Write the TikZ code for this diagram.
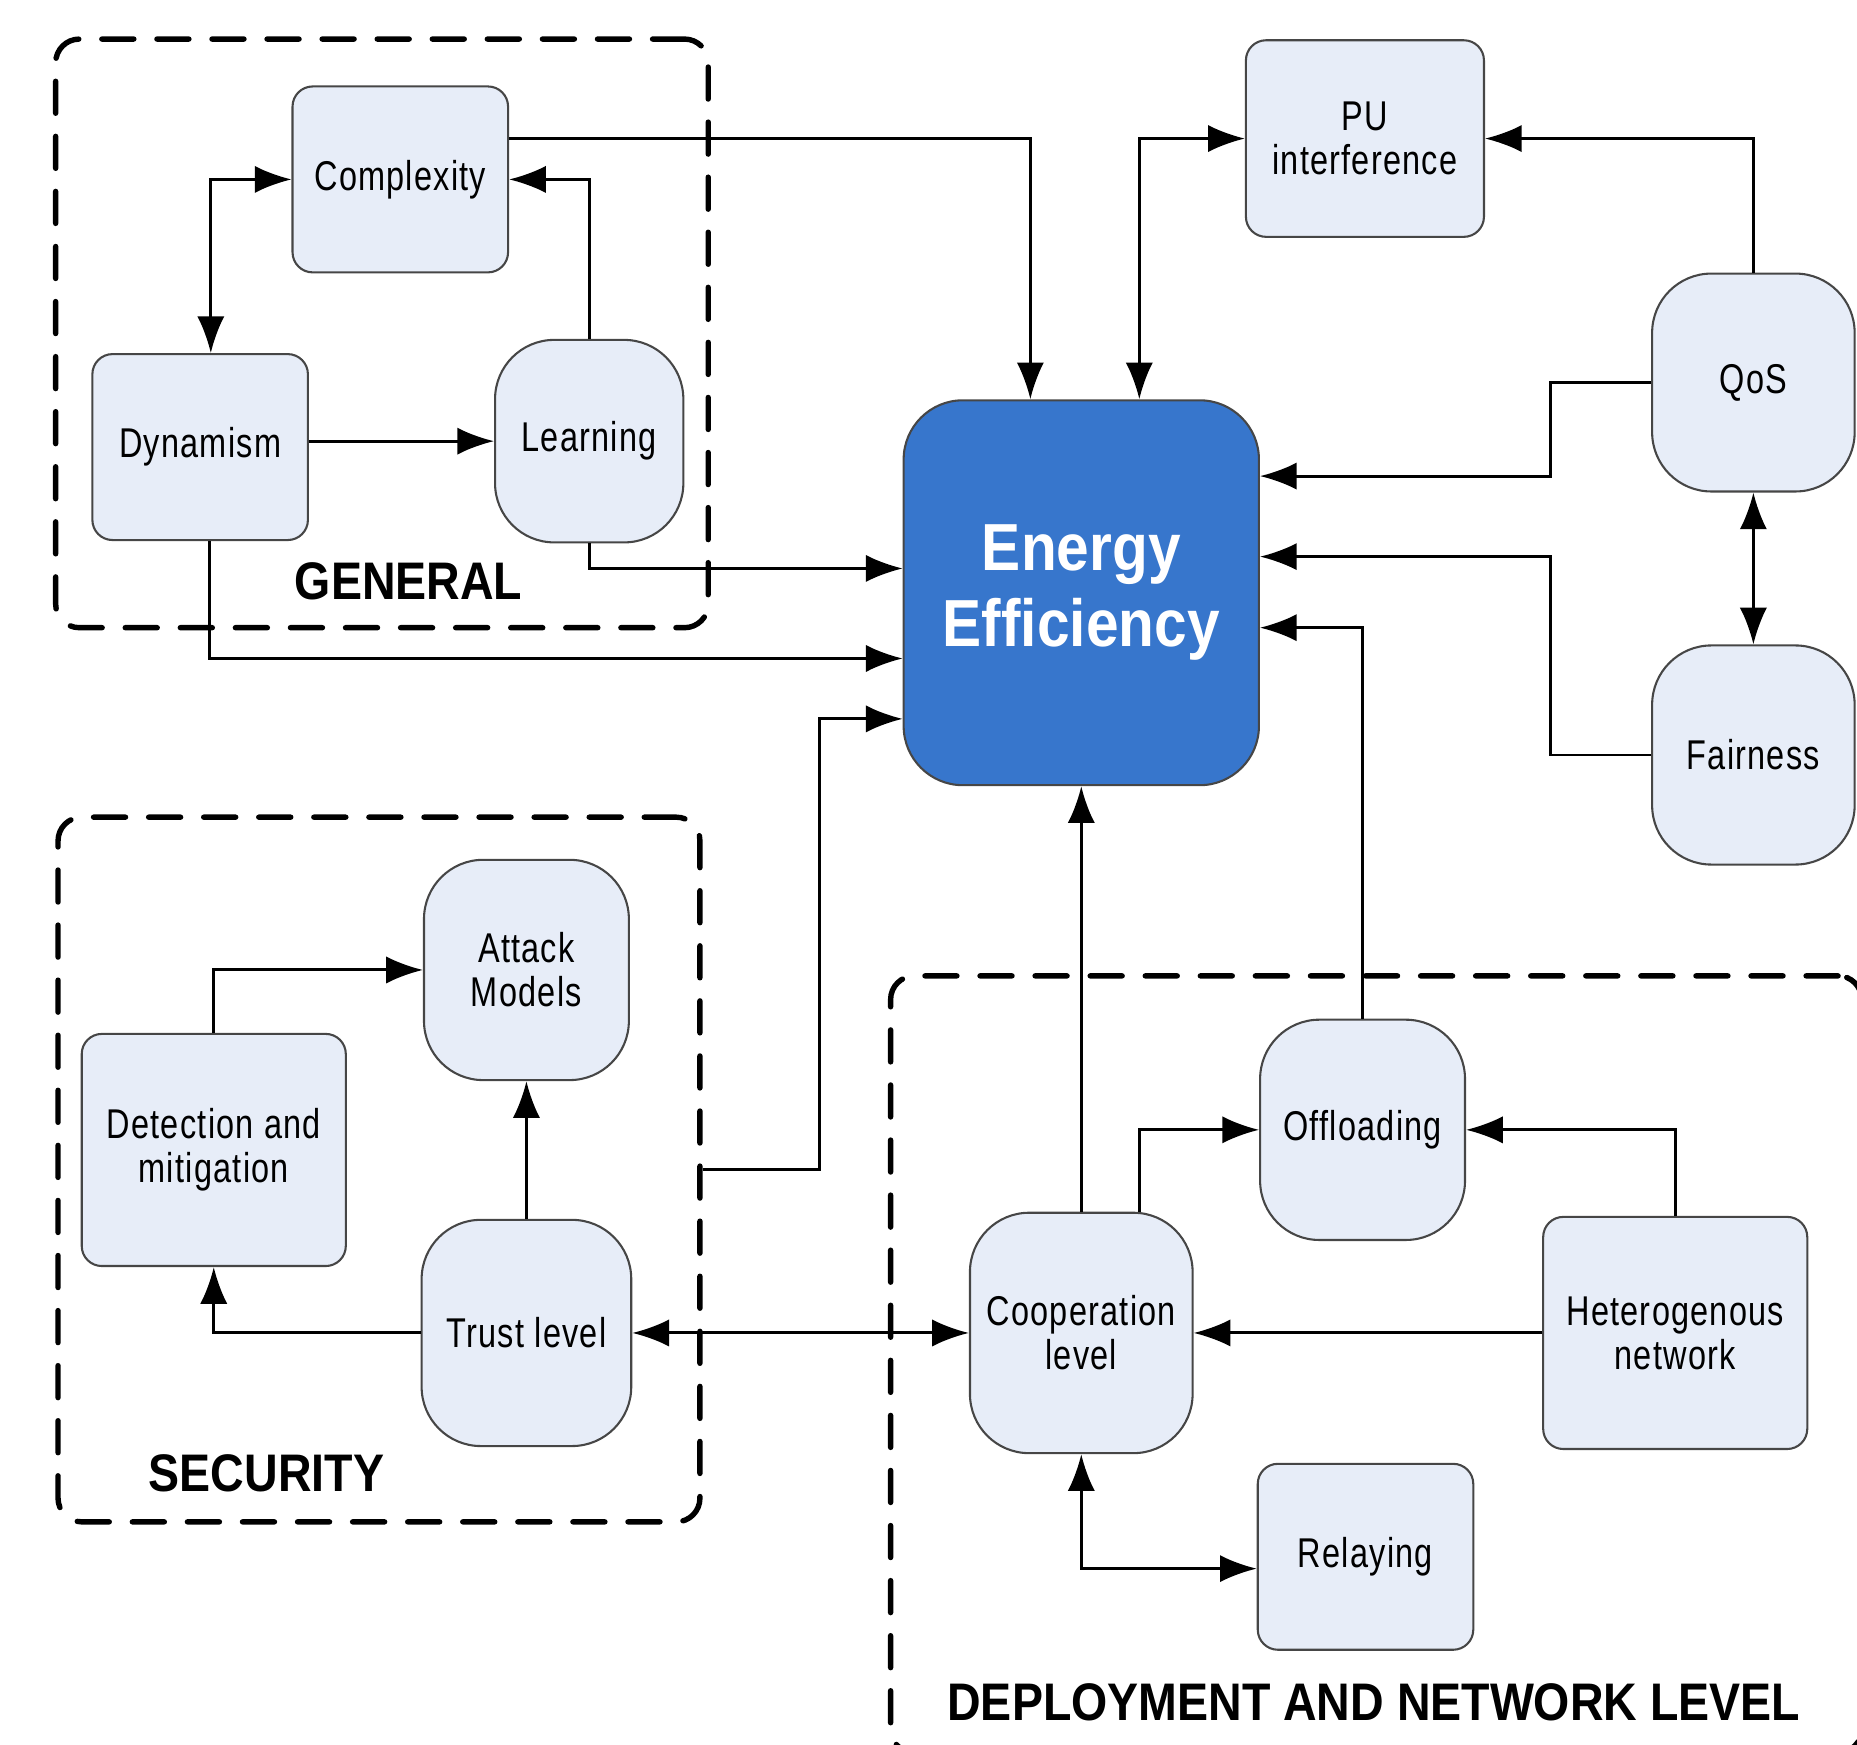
\documentclass[tikz,border=0pt]{standalone}
\usepackage{fontspec}
\setmainfont{Liberation Sans}[FakeStretch=0.78, LetterSpace=3]
\newfontfamily\headfont{Liberation Sans}[FakeStretch=0.88]
\usetikzlibrary{arrows.meta}

\definecolor{boxfill}{RGB}{231,237,248}
\definecolor{eeblue}{RGB}{55,118,204}
\definecolor{boxline}{RGB}{70,70,70}

\begin{document}
\begin{tikzpicture}[
    box/.style={draw=boxline, line width=0.5pt, fill=boxfill, rounded corners=1.7mm,
        align=center, inner sep=0pt, font=\fontsize{10}{10.6}\selectfont},
    tallbox/.style={box, rounded corners=5mm},
    group/.style={draw, line width=1.3pt, line cap=round, dash pattern=on 2.7mm off 1.95mm,
        rounded corners=2mm, inner sep=0pt},
    grouplabel/.style={font=\headfont\bfseries\fontsize{12.7}{14}\selectfont},
    arr/.style={-{Latex[length=3.1mm, width=2.3mm]}, line width=0.7pt},
    arr2/.style={{Latex[length=3.1mm, width=2.3mm]}-{Latex[length=3.1mm, width=2.3mm]}, line width=0.7pt}
]
    \useasboundingbox (0,0) rectangle (15.68,-14.73);

    % Group frames
    \node[group, minimum width=5.51cm, minimum height=4.97cm] (gen) at (3.225,-2.815) {};
    \node[group, minimum width=5.42cm, minimum height=5.95cm] (sec) at (3.20,-9.875) {};
    \begin{scope}
        \clip (0,0) rectangle (15.68,-14.73); % frame runs off the page
        \node[group, minimum width=8.20cm, minimum height=6.56cm] (dep) at (11.62,-11.52) {};
    \end{scope}
    \node[grouplabel] (genlbl) at (3.45,-4.91) {GENERAL};
    \node[grouplabel] (seclbl) at (2.25,-12.44) {SECURITY};
    \node[grouplabel] (deplbl) at (11.6,-14.37) {DEPLOYMENT AND NETWORK LEVEL};

    % Central node
    \node[draw=boxline, line width=0.5pt, fill=eeblue, rounded corners=5mm, text=white,
        align=center, minimum width=3.0cm, minimum height=3.25cm,
        font=\headfont\bfseries\fontsize{16}{18.2}\selectfont] (ee) at (9.13,-5.005)
        {Energy\\Efficiency};

    % General
    \node[box, minimum width=1.82cm, minimum height=1.57cm] (cplx) at (3.38,-1.515) {Complexity};
    \node[box, minimum width=1.82cm, minimum height=1.57cm] (dyn) at (1.69,-3.775) {Dynamism};
    \node[tallbox, minimum width=1.59cm, minimum height=1.71cm] (lrn) at (4.975,-3.725) {Learning};

    % Right side
    \node[box, minimum width=2.01cm, minimum height=1.66cm] (pu) at (11.525,-1.17) {PU\\interference};
    \node[tallbox, minimum width=1.71cm, minimum height=1.84cm] (qos) at (14.805,-3.23) {QoS};
    \node[tallbox, minimum width=1.71cm, minimum height=1.85cm] (fair) at (14.805,-6.375) {Fairness};

    % Security
    \node[tallbox, minimum width=1.73cm, minimum height=1.86cm] (atk) at (4.445,-8.19) {Attack\\Models};
    \node[box, minimum width=2.23cm, minimum height=1.96cm] (det) at (1.805,-9.71) {Detection and\\mitigation};
    \node[tallbox, minimum width=1.77cm, minimum height=1.91cm] (trust) at (4.445,-11.255) {Trust level};

    % Deployment and network level
    \node[tallbox, minimum width=1.73cm, minimum height=1.86cm] (offl) at (11.505,-9.54) {Offloading};
    \node[tallbox, minimum width=1.88cm, minimum height=2.03cm] (coop) at (9.13,-11.255) {Cooperation\\level};
    \node[box, minimum width=2.23cm, minimum height=1.96cm] (het) at (14.145,-11.255) {Heterogenous\\network};
    \node[box, minimum width=1.82cm, minimum height=1.57cm] (rel) at (11.53,-13.145) {Relaying};

    % Connectors in the general group
    \draw[arr2] (cplx.west) -| ([xshift=0.9mm]dyn.north);
    \draw[arr] (dyn.east |- lrn.west) -- (lrn.west);
    \draw[arr] (lrn.north) |- (cplx.east);

    % Into energy efficiency
    \draw[arr] (cplx.east |- pu.west) -| ([xshift=-4.3mm]ee.north);
    \draw[arr2] (pu.west) -| ([xshift=4.9mm]ee.north);
    \draw[arr] (lrn.south) |- ([yshift=2.05mm]ee.west);
    \draw[arr] ([xshift=0.8mm]dyn.south) |- ([yshift=-5.55mm]ee.west);
    \draw[arr] (sec.east) -- ++(0.99,0) |- ([yshift=-10.65mm]ee.west);
    \draw[arr] (qos.west) -- ++(-0.85,0) |- ([yshift=9.85mm]ee.east);
    \draw[arr] (fair.west) -- ++(-0.85,0) |- ([yshift=3.05mm]ee.east);
    \draw[arr] (offl.north) |- ([yshift=-2.95mm]ee.east);
    \draw[arr] (coop.north) -- (ee.south);

    % Right side
    \draw[arr] (qos.north) |- (pu.east);
    \draw[arr2] (qos.south) -- (fair.north);

    % Security
    \draw[arr] (det.north) |- (atk.west);
    \draw[arr] (trust.north) -- (atk.south);
    \draw[arr] (trust.west) -| (det.south);
    \draw[arr2] (trust.east) -- (coop.west);

    % Deployment
    \draw[arr] ([xshift=4.9mm]coop.north) |- (offl.west);
    \draw[arr] (het.north) |- (offl.east);
    \draw[arr] (het.west) -- (coop.east);
    \draw[arr2] (coop.south) |- ([yshift=-1mm]rel.west);
\end{tikzpicture}
\end{document}
